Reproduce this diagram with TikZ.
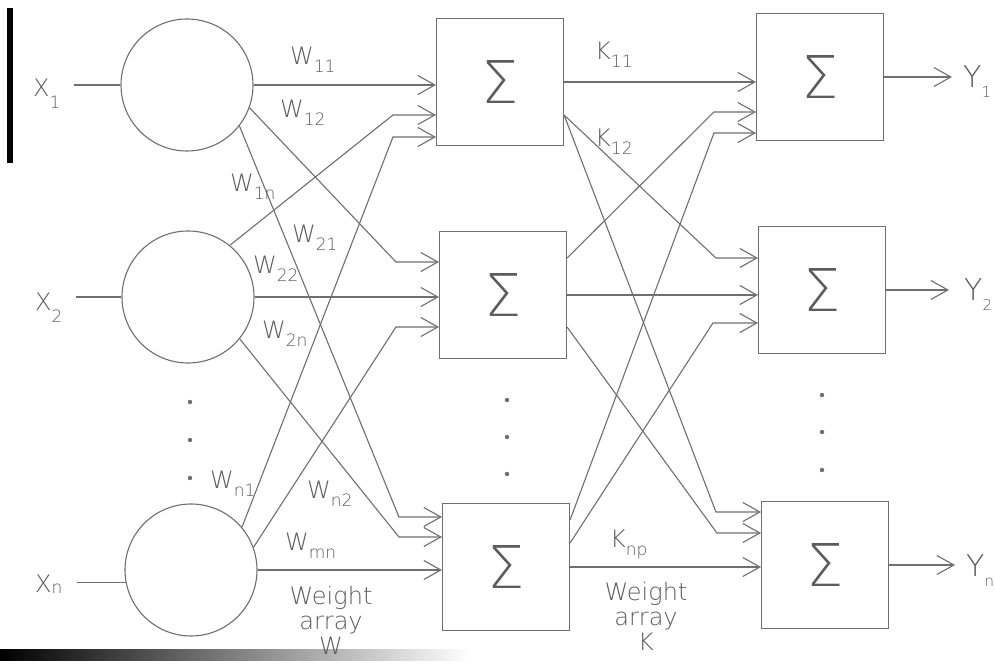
\documentclass[tikz,border=0pt]{standalone}
\usepackage{fontspec}
\setmainfont{DejaVuSans-ExtraLight}[Extension=.ttf]
\usetikzlibrary{arrows.meta}
\definecolor{Graphite}{HTML}{6F6F6F}
\definecolor{Lettering}{HTML}{5C5C5C}
\newcommand{\lowidx}[2][8pt]{\raisebox{-#1}{\fontsize{17}{17}\selectfont #2}}

\begin{document}
\begin{tikzpicture}[
    x=1pt, y=-1pt,
    wire/.style={draw=Graphite, line width=1.1pt},
    feed/.style={wire, -{Straight Barb[length=17pt,width=19pt]}},
    neuron/.style={
      circle,
      draw=Graphite,
      line width=1.1pt,
      minimum size=132pt,
      inner sep=0pt
    },
    sumbox/.style={
      rectangle,
      draw=Graphite,
      line width=1.1pt,
      minimum width=127pt,
      minimum height=127pt,
      inner sep=0pt,
      text=Lettering,
      font=\fontsize{59}{59}\selectfont
    },
    weight/.style={anchor=base west, inner sep=0pt, text=Lettering, font=\fontsize{24}{24}\selectfont},
    outlabel/.style={weight, font=\fontsize{30}{30}\selectfont},
    caption/.style={anchor=north, inner sep=0pt, align=center, text=Lettering, font=\fontsize{24}{25}\selectfont},
    dotmark/.style={fill=Graphite}
  ]
  \useasboundingbox (0,0) rectangle (995,668);
  \fill[white] (0,0) rectangle (995,668);
  \fill[black] (7,8) rectangle (13,163);
  \shade[left color=black, middle color=black!85, right color=white] (0,649) rectangle (470,660);

  \node[neuron] (xa) at (187,85) {};
  \node[neuron] (xb) at (188,297) {};
  \node[neuron] (xn) at (191,570) {};

  \node[sumbox] (sa) at (500,82) {Σ};
  \node[sumbox] (sb) at (503,295) {Σ};
  \node[sumbox] (sc) at (506,567) {Σ};

  \node[sumbox] (ya) at (820,77) {Σ};
  \node[sumbox] (yb) at (822,290) {Σ};
  \node[sumbox] (yc) at (825,565) {Σ};

  \node[weight] (lxa) at (33,97) {X\lowidx[12pt]{1}};
  \node[weight] (lxb) at (35,310) {X\lowidx[12pt]{2}};
  \node[weight] (lxn) at (35,592) {X\lowidx[1pt]{n}};
  \draw[wire] ([xshift=13pt]lxa.east |- xa.west) -- (xa.west);
  \draw[wire] ([xshift=13pt]lxb.east |- xb.west) -- (xb.west);
  \draw[wire] ([xshift=14pt]lxn.east |- xn.191) -- (xn.191);

  \node[outlabel] (lya) at (963,88) {Y\lowidx[10pt]{\fontsize{15}{15}\selectfont 1}};
  \node[outlabel] (lyb) at (964,300) {Y\lowidx[10pt]{\fontsize{15}{15}\selectfont 2}};
  \node[outlabel] (lyc) at (966,576) {Y\lowidx[10pt]{\fontsize{15}{15}\selectfont n}};
  \draw[feed] (ya.east) -- ([xshift=-11pt]lya.west |- ya.east);
  \draw[feed] (yb.east) -- ([xshift=-15pt]lyb.west |- yb.east);
  \draw[feed] (yc.east) -- ([xshift=-11pt]lyc.west |- yc.east);

  \draw[feed] (xa.east) -- (sa.west |- xa.east);
  \draw[feed] (xb.east) -- (sb.west |- xb.east);
  \draw[feed] (xn.east) -- (sc.west |- xn.east);
  \draw[feed] (xa.-20) -- ([xshift=-43pt,yshift=33pt]sb.west) -- ([yshift=33pt]sb.west);
  \draw[feed] (xa.-38) -- ([xshift=-43pt,yshift=50pt]sc.west) -- ([yshift=50pt]sc.west);
  \draw[feed] (xb.51) -- ([xshift=-43pt,yshift=-33pt]sa.west) -- ([yshift=-33pt]sa.west);
  \draw[feed] (xb.-39) -- ([xshift=-43pt,yshift=30pt]sc.west) -- ([yshift=30pt]sc.west);
  \draw[feed] (xn.40) -- ([xshift=-43pt,yshift=-55pt]sa.west) -- ([yshift=-55pt]sa.west);
  \draw[feed] (xn.20) -- ([xshift=-43pt,yshift=-32pt]sb.west) -- ([yshift=-32pt]sb.west);

  \draw[feed] (sa.east) -- (ya.west |- sa.east);
  \draw[feed] (sb.east) -- (yb.west |- sb.east);
  \draw[feed] (sc.east) -- (yc.west |- sc.east);
  \draw[feed] ([yshift=-33pt]sa.east) -- ([xshift=-42pt,yshift=32pt]yb.west) -- ([yshift=32pt]yb.west);
  \draw[feed] ([yshift=-33pt]sa.east) -- ([xshift=-45pt,yshift=53pt]yc.west) -- ([yshift=53pt]yc.west);
  \draw[feed] ([yshift=37pt]sb.east) -- ([xshift=-42pt,yshift=-35pt]ya.west) -- ([yshift=-35pt]ya.west);
  \draw[feed] ([yshift=-32pt]sb.east) -- ([xshift=-44pt,yshift=32pt]yc.west) -- ([yshift=32pt]yc.west);
  \draw[feed] ([yshift=47pt]sc.east) -- ([xshift=-42pt,yshift=-56pt]ya.west) -- ([yshift=-56pt]ya.west);
  \draw[feed] ([yshift=24pt]sc.east) -- ([xshift=-45pt,yshift=-33pt]yb.west) -- ([yshift=-33pt]yb.west);

  \node[weight] (wa1) at (290,65) {W\lowidx{11}};
  \node[weight] (wa2) at (280,118) {W\lowidx{12}};
  \node[weight] (wan) at (230,192) {W\lowidx{1n}};
  \node[weight] (wb1) at (292,243) {W\lowidx{21}};
  \node[weight] (wb2) at (253,273) {W\lowidx{22}};
  \node[weight] (wbn) at (262,338) {W\lowidx{2n}};
  \node[weight] (wn1) at (210,488) {W\lowidx{n1}};
  \node[weight] (wn2) at (307,498) {W\lowidx{n2}};
  \node[weight] (wnn) at (285,550) {W\lowidx{mn}};
  \node[weight] (ka1) at (595,60) {K\lowidx{11}};
  \node[weight] (ka2) at (595,147) {K\lowidx{12}};
  \node[weight] (knp) at (610,547) {K\lowidx{np}};

  \node[caption] (warr) at (331,586) {Weight\\array\\W};
  \node[caption] (karr) at (646,582) {Weight\\array\\K};

  \foreach \y in {402,440,478} \fill[dotmark] (190,\y) circle (2.2pt);
  \foreach \y in {400,437,474} \fill[dotmark] (507,\y) circle (2.2pt);
  \foreach \y in {395,432,470} \fill[dotmark] (822,\y) circle (2.2pt);
\end{tikzpicture}
\end{document}
